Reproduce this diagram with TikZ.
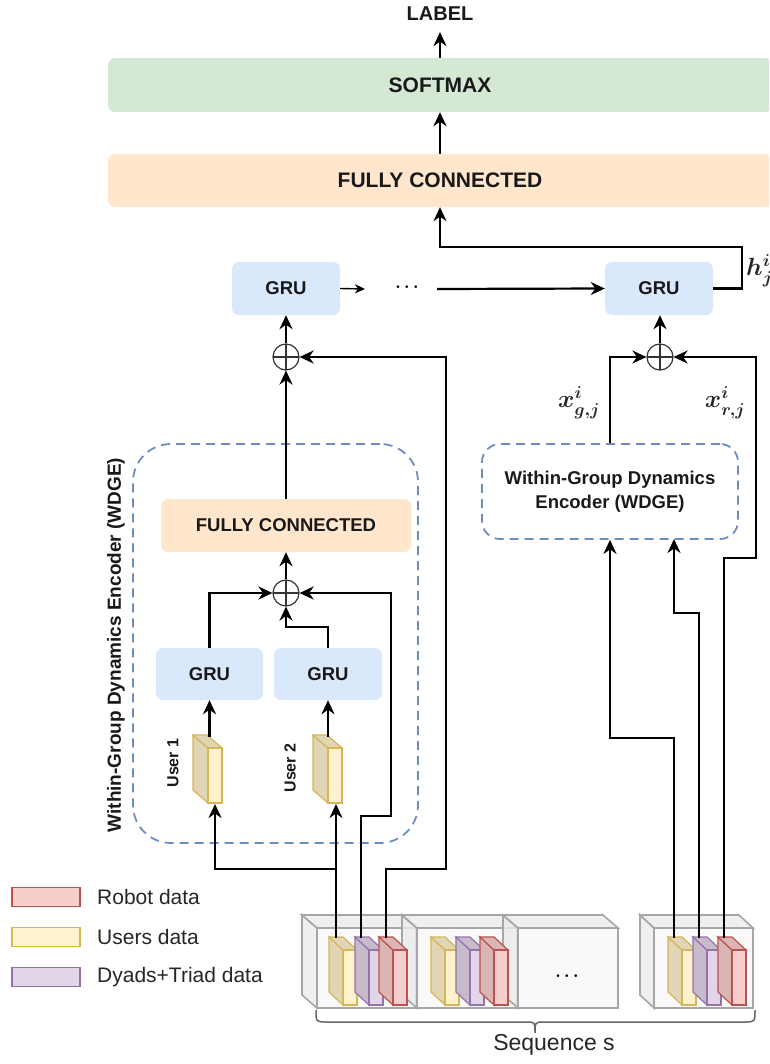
\documentclass[tikz,border=0pt]{standalone}
\usepackage{fontspec}
\setmainfont{Liberation Sans}
\usetikzlibrary{arrows.meta,calc}
\definecolor{smgreen}{HTML}{D5E8D4}
\definecolor{fcorange}{HTML}{FFE6CC}
\definecolor{grublue}{HTML}{DAE8FC}
\definecolor{dashblue}{HTML}{6C8EBF}
\definecolor{yfill}{HTML}{FFF2CC}
\definecolor{ydraw}{HTML}{D6B656}
\definecolor{pfill}{HTML}{E1D5E7}
\definecolor{pdraw}{HTML}{9673A6}
\definecolor{rfill}{HTML}{F8CECC}
\definecolor{rdraw}{HTML}{B85450}
\definecolor{seqfill}{HTML}{F5F5F5}
\definecolor{seqside}{HTML}{EBEBEB}
\definecolor{seqdraw}{HTML}{A6A6A6}
% x0, y0 (front top-left), w, h, dx, dy, side style, front style
\newcommand{\mycub}[8]{%
  \path[#7] (#1-#5,#2-#6) -- (#1,#2) -- (#1,#2+#4) -- (#1-#5,#2+#4-#6) -- cycle;
  \path[#7] (#1-#5,#2-#6) -- (#1+#3-#5,#2-#6) -- (#1+#3,#2) -- (#1,#2) -- cycle;
  \path[#8] (#1,#2) rectangle (#1+#3,#2+#4);}
\begin{document}
\begin{tikzpicture}[x=1pt,y=-1pt,
  box/.style={rounded corners=7pt, inner sep=0pt, text=black!90},
  grubox/.style={box, fill=grublue, minimum width=108pt, minimum height=53pt, font=\bfseries\fontsize{18.5}{22}\selectfont},
  dbox/.style={draw=dashblue, line width=1.8pt, dash pattern=on 9pt off 6pt},
  opl/.style={circle, draw=black!80, line width=1.2pt, minimum size=26pt, inner sep=0pt,
    path picture={\draw[black!80, line width=1.2pt] (path picture bounding box.north) -- (path picture bounding box.south) (path picture bounding box.west) -- (path picture bounding box.east);}},
  wire/.style={line width=2.2pt, black},
  arr/.style={wire, -{Stealth[length=14pt,width=13pt,inset=4.5pt]}},
  mlab/.style={font=\fontsize{27}{30}\selectfont\boldmath, inner sep=0pt, text=black!85},
  legrect/.style={minimum width=68pt, minimum height=19pt, line width=1.3pt, inner sep=0pt},
  legtxt/.style={anchor=west, font=\fontsize{21}{25}\selectfont, text=black!85, inner sep=0pt},
  dotsty/.style={font=\fontsize{19}{22}\selectfont\boldmath, inner sep=0pt},
  yb/.style={fill=yfill!88!black, draw=ydraw, line width=1.2pt},
  yf/.style={fill=yfill, draw=ydraw, line width=1.2pt},
  pb/.style={fill=pfill!88!black, draw=pdraw, line width=1.2pt},
  pf/.style={fill=pfill, draw=pdraw, line width=1.2pt},
  rb/.style={fill=rfill!88!black, draw=rdraw, line width=1.2pt},
  rf/.style={fill=rfill, draw=rdraw, line width=1.2pt},
  sb/.style={fill=seqside, fill opacity=0.8, draw=seqdraw, line width=1.6pt},
  sf/.style={fill=seqfill, fill opacity=0.6, draw=seqdraw, line width=1.6pt},
]
\useasboundingbox (0,0) rectangle (769,1064);
\begin{scope}
\clip (0,0) rectangle (769,1064);

% ---------- top part ----------
\node[inner xsep=2pt, inner ysep=11pt, font=\bfseries\fontsize{20}{24}\selectfont, text=black!90] (label) at (440,14) {LABEL};
\node[box, fill=smgreen, minimum width=664pt, minimum height=54pt, font=\bfseries\fontsize{21}{25}\selectfont] (softmax) at (440,85) {SOFTMAX};
\node[box, fill=fcorange, minimum width=664pt, minimum height=53pt, font=\bfseries\fontsize{21}{25}\selectfont] (fc) at (440,180.5) {FULLY CONNECTED};
\draw[arr] (softmax.north) -- (label.south);
\draw[arr] (fc.north) -- (softmax.south);

\node[grubox] (grua) at (286,288.5) {GRU};
\node[grubox] (grub) at (659,288.5) {GRU};
\node[dotsty] (dots) at (407,287) {$\cdots$};
\coordinate (sa) at (365,289);
\coordinate (sb) at (437,289);
\draw[line width=1.4pt, -{Stealth[length=10pt,width=9pt,inset=3pt]}] (grua.east) -- (sa);
\draw[arr] (sb) -- (grub.west);
\draw[arr] (grub.east) -- ++(29,0) |- ($(fc.south)+(0,40)$) -- (fc.south);
\node[mlab, anchor=west] (hl) at (746,271) {$h^{i}_{j}$};

\node[opl] (opa) at (286,357) {};
\node[opl] (opb) at (660,357) {};
\draw[arr] (opa.north) -- (grua.south);
\draw[arr] (opb.north) -- (opb.north |- grub.south);

% ---------- left WDGE ----------
\node[dbox, rounded corners=38pt, minimum width=285pt, minimum height=399pt] (wdgeL) at (275.5,643.5) {};
\node[rotate=90, inner sep=0pt, font=\bfseries\fontsize{19}{23}\selectfont, text=black!90] (wdgeLlab) at (116,645) {Within-Group Dynamics Encoder (WDGE)};
\node[box, fill=fcorange, minimum width=250pt, minimum height=53pt, font=\bfseries\fontsize{18.5}{22}\selectfont] (fcin) at (286,525.5) {FULLY CONNECTED};
\node[opl] (opc) at (286,593) {};
\node[grubox, minimum width=107pt, minimum height=52pt] (gru1) at (209.5,674) {GRU};
\node[grubox, minimum width=108pt, minimum height=52pt] (gru2) at (328,674) {GRU};
\draw[arr] (fcin.north) -- (opa.south);
\draw[arr] (opc.north) -- (fcin.south);
\draw[arr] (gru1.north) |- (opc.west);
\draw[arr] (gru2.north) -- ++(0,-21) -| (opc.south);

% user blocks
\mycub{208}{748}{14}{55}{15}{13}{yb}{yf}
\mycub{328}{748}{14}{55}{15}{13}{yb}{yf}
\coordinate (u1t) at (209.5,737);
\coordinate (u2t) at (328,737);
\coordinate (u1b) at (215,804);
\coordinate (u2b) at (336,804);
\draw[arr] (u1t) -- (gru1.south);
\draw[arr] (u2t) -- (gru2.south);
\node[rotate=90, inner sep=0pt, font=\bfseries\fontsize{16}{19}\selectfont, text=black!90] (usr1) at (173,763) {User 1};
\node[rotate=90, inner sep=0pt, font=\bfseries\fontsize{16}{19}\selectfont, text=black!90] (usr2) at (290,768) {User 2};

% ---------- right WDGE ----------
\node[dbox, rounded corners=18pt, minimum width=256pt, minimum height=95pt, align=center, font=\bfseries\fontsize{18.5}{24}\selectfont, text=black!90] (wdgeR) at (610,491.5) {Within-Group Dynamics\\Encoder (WDGE)};
\coordinate (wR2) at (674,539);
\draw[arr] (wdgeR.north) |- (opb.west);
\node[mlab] (xg) at (579,403) {$x^{i}_{g,j}$};
\node[mlab] (xr) at (725,403) {$x^{i}_{r,j}$};

% ---------- sequence boxes ----------
\mycub{317}{928}{99}{80}{15}{13}{sb}{sf}
\mycub{417}{928}{100}{80}{15}{13}{sb}{sf}
\mycub{518}{928}{100}{80}{15}{13}{sb}{sf}
\mycub{654}{928}{99}{80}{14}{13}{sb}{sf}
\node[dotsty] (sdots) at (567,976) {$\cdots$};
% data blocks
\mycub{343}{950}{14}{55}{14}{13}{yb}{yf}
\mycub{369}{950}{14}{55}{14}{13}{pb}{pf}
\mycub{393}{950}{14}{55}{14}{13}{rb}{rf}
\mycub{445}{950}{14}{55}{14}{13}{yb}{yf}
\mycub{470}{950}{14}{55}{14}{13}{pb}{pf}
\mycub{494}{950}{14}{55}{14}{13}{rb}{rf}
\mycub{682}{950}{14}{55}{14}{13}{yb}{yf}
\mycub{707}{950}{14}{55}{14}{13}{pb}{pf}
\mycub{732}{950}{14}{55}{14}{13}{rb}{rf}
\coordinate (yb1) at (336,938);
\coordinate (pb1) at (361,938);
\coordinate (rb1) at (386,938);
\coordinate (yb4) at (674,938);
\coordinate (pb4) at (699,938);
\coordinate (rb4) at (724,938);

% connectors from the sequence
\draw[arr] (yb1) -- (336,869) -| (u1b);
\draw[arr] (yb1) -- (u2b);
\draw[arr] (pb1) -- (361,816) -- (391,816) |- (opc.east);
\draw[arr] (rb1) -- (386,869) -- (446,869) |- (opa.east);
\draw[arr] (yb4) -- (674,738) -| (wdgeR.south);
\draw[arr] (pb4) -- (699,613) -| (wR2);
\draw[arr] (rb4) -- (724,558) -- (756,558) |- (opb.east);

% brace
\draw[line width=1.5pt, black!60] (316,1010) .. controls (316,1022) .. (327,1022) -- (526,1022) .. controls (535,1022) .. (535,1033) .. controls (535,1022) .. (544,1022) -- (744,1022) .. controls (755,1022) .. (755,1010);
\node[font=\fontsize{23}{27}\selectfont, text=black!85, inner sep=0pt] (seqlab) at (554,1045) {Sequence s};

% ---------- legend ----------
\node[legrect, fill=rfill, draw=rdraw] (lr) at (46,897) {};
\node[legrect, fill=yfill, draw=ydraw] (ly) at (46,937) {};
\node[legrect, fill=pfill, draw=pdraw] (lp) at (46,977) {};
\node[legtxt] (lrt) at (97,897) {Robot data};
\node[legtxt] (lyt) at (97,937) {Users data};
\node[legtxt] (lpt) at (97,977) {Dyads+Triad data};
\end{scope}
\end{tikzpicture}
\end{document}
